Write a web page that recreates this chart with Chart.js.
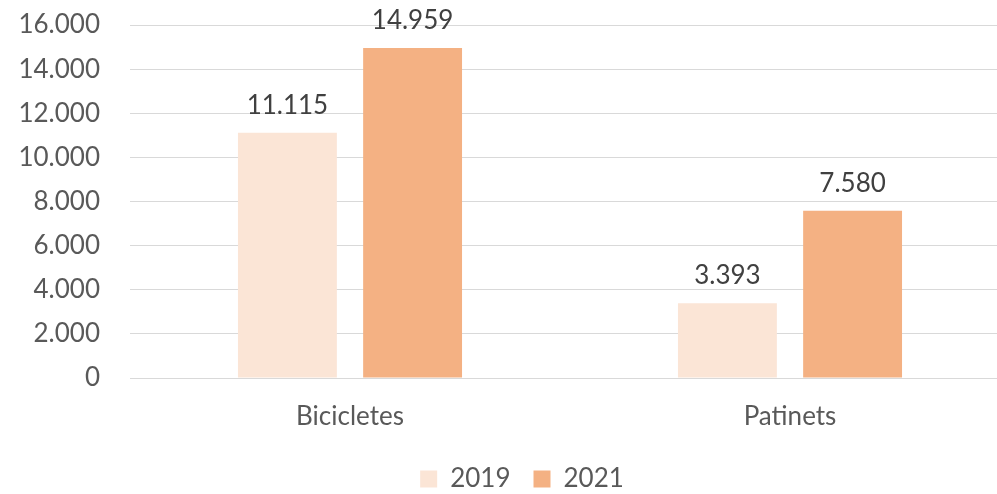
<!DOCTYPE html>
<html>
<head>
<meta charset="utf-8">
<script src="https://cdn.jsdelivr.net/npm/chart.js@4"></script>
<style>
  html, body { margin: 0; padding: 0; background: #fff; overflow: hidden; }
  #wrap { width: 1010px; height: 494px; }
</style>
</head>
<body>
<div id="wrap"><canvas id="chart"></canvas></div>
<script>
const categories = ['Bicicletes', 'Patinets'];
const values2019 = [11115, 3393];
const values2021 = [14959, 7580];
const yTicks = [0, 2000, 4000, 6000, 8000, 10000, 12000, 14000, 16000];

const fmt = v => String(v).replace(/\B(?=(\d{3})+(?!\d))/g, '.');

Chart.defaults.font.family = 'Lato, "Open Sans", sans-serif';
Chart.defaults.font.size = 26;
Chart.defaults.color = '#595959';

const valueLabels = {
    id: 'valueLabels',
    afterUpdate(chart) {
        // legend sits a bit right of the canvas centre in the original
        if (chart.legend) { chart.legend.left += 17; chart.legend.right += 17; }
    },
    afterDatasetsDraw(chart) {
        const ctx = chart.ctx;
        ctx.save();
        ctx.font = '26px Lato, "Open Sans", sans-serif';
        ctx.fillStyle = '#404040';
        ctx.textAlign = 'center';
        ctx.textBaseline = 'alphabetic';
        chart.data.datasets.forEach((ds, i) => {
            chart.getDatasetMeta(i).data.forEach((bar, j) => {
                ctx.fillText(fmt(ds.data[j]), bar.x, bar.y - 19);
            });
        });
        ctx.restore();
    }
};

new Chart(document.getElementById('chart'), {
    type: 'bar',
    data: {
        labels: categories,
        datasets: [{
            label: '2019',
            data: values2019,
            backgroundColor: '#FBE5D6',
            barPercentage: 0.79,
            categoryPercentage: 0.569,
        }, {
            label: '2021',
            data: values2021,
            backgroundColor: '#F4B183',
            barPercentage: 0.79,
            categoryPercentage: 0.569,
        }]
    },
    options: {
        responsive: true,
        maintainAspectRatio: false,
        animation: false,
        layout: { padding: { top: 25, left: 0, right: 0, bottom: -8 } },
        plugins: {
            legend: {
                position: 'bottom',
                labels: { boxWidth: 17, boxHeight: 17, padding: 23, color: '#595959' }
            },
            tooltip: { enabled: false }
        },
        scales: {
            y: {
                min: 0,
                max: 16000,
                afterFit(scale) {
                    scale.width = 130;
                    scale.paddingTop = 0;
                    scale.paddingBottom = 0;
                },
                afterBuildTicks(scale) { scale.ticks = yTicks.map(v => ({ value: v })); },
                ticks: { padding: 30, callback: v => fmt(v) },
                grid: { color: '#D9D9D9', lineWidth: 1, drawTicks: false },
                border: { display: false }
            },
            x: {
                afterFit(scale) {
                    scale.height = 65;
                    scale.paddingLeft = 0;
                    scale.paddingRight = 0;
                },
                ticks: { padding: 23 },
                grid: { display: false, drawTicks: false },
                border: { color: '#D9D9D9', width: 1 }
            }
        }
    },
    plugins: [valueLabels]
});
</script>
</body>
</html>
